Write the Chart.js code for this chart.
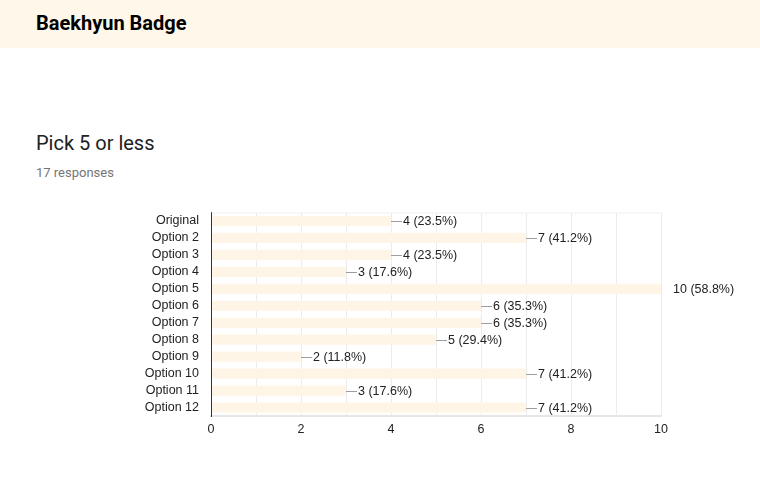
<!DOCTYPE html>
<html>
<head>
<meta charset="utf-8">
<script src="https://cdn.jsdelivr.net/npm/chart.js@4"></script>
<style>
    body { margin: 0; width: 760px; height: 483px; background: #fff; position: relative; overflow: hidden; font-family: Roboto, "Liberation Sans", sans-serif; }
    .cabecera { position: absolute; left: 0; top: 0; width: 760px; height: 48px; background: #fff7e9; }
    .cabecera h1 { position: absolute; left: 36px; top: 11px; margin: 0; font-size: 20px; font-weight: 700; color: #000; }
    .pregunta { position: absolute; left: 36px; top: 131px; margin: 0; font-size: 20px; font-weight: 400; color: #212121; }
    .respuestas { position: absolute; left: 36px; top: 165px; font-size: 13px; color: #757575; }
    .lienzo { position: absolute; left: 0; top: 193px; width: 760px; height: 249px; }
</style>
</head>
<body>
<div class="cabecera"><h1>Baekhyun Badge</h1></div>
<h2 class="pregunta">Pick 5 or less</h2>
<div class="respuestas">17 responses</div>
<div class="lienzo"><canvas id="chart-opciones"></canvas></div>

<script>
// Datos del gráfico
const categorias = ['Original', 'Option 2', 'Option 3', 'Option 4', 'Option 5', 'Option 6',
    'Option 7', 'Option 8', 'Option 9', 'Option 10', 'Option 11', 'Option 12'];
const votos = [4, 7, 4, 3, 10, 6, 6, 5, 2, 7, 3, 7];
const totalRespuestas = 17;
const ticksX = [0, 2, 4, 6, 8, 10];

const fuente = '"Liberation Sans", Arial, sans-serif';

/**
 * Etiquetas al final de cada barra: "—4 (23.5%)"
 */
const etiquetasBarras = {
    id: 'etiquetasBarras',
    beforeDatasetsDraw(chart) {
        // Línea superior tenue del área del gráfico
        const area = chart.chartArea;
        const ctx = chart.ctx;
        ctx.save();
        ctx.strokeStyle = '#f0f0f0';
        ctx.lineWidth = 1;
        ctx.beginPath();
        ctx.moveTo(area.left, area.top + 0.5);
        ctx.lineTo(area.right, area.top + 0.5);
        ctx.stroke();
        ctx.restore();
    },
    afterDatasetsDraw(chart) {
        const ctx = chart.ctx;
        const area = chart.chartArea;
        const meta = chart.getDatasetMeta(0);
        const maximo = Math.max(...votos);
        ctx.save();

        // Eje vertical oscuro por encima de las barras
        ctx.strokeStyle = '#333';
        ctx.lineWidth = 1;
        ctx.beginPath();
        ctx.moveTo(Math.round(area.left) + 0.5, area.top);
        ctx.lineTo(Math.round(area.left) + 0.5, area.bottom);
        ctx.stroke();

        ctx.font = '12.5px ' + fuente;
        ctx.textBaseline = 'middle';
        meta.data.forEach((barra, i) => {
            const valor = votos[i];
            const pct = (valor / totalRespuestas * 100).toFixed(1);
            const x = barra.x;
            const y = barra.y;
            if (valor !== maximo) {
                ctx.strokeStyle = '#9e9e9e';
                ctx.lineWidth = 1;
                ctx.beginPath();
                ctx.moveTo(x, Math.round(y) + 0.5);
                ctx.lineTo(x + 11, Math.round(y) + 0.5);
                ctx.stroke();
            }
            ctx.fillStyle = '#222';
            ctx.fillText(valor + ' (' + pct + '%)', x + 12, y + 1);
        });
        ctx.restore();
    }
};

new Chart(document.getElementById('chart-opciones').getContext('2d'), {
    type: 'bar',
    data: {
        labels: categorias,
        datasets: [{
            data: votos,
            backgroundColor: '#fff5e6',
            borderWidth: 0,
            categoryPercentage: 1,
            barPercentage: 0.6
        }]
    },
    options: {
        indexAxis: 'y',
        responsive: true,
        maintainAspectRatio: false,
        animation: false,
        layout: { padding: { top: 4, right: 99, left: 0, bottom: 0 } },
        plugins: {
            legend: { display: false },
            tooltip: { enabled: false }
        },
        scales: {
            x: {
                min: 0,
                max: 10,
                afterFit: (scale) => { scale.height = 26; },
                ticks: {
                    stepSize: 1,
                    autoSkip: false,
                    padding: 6,
                    color: '#222',
                    font: { family: fuente, size: 12.5 },
                    callback: (v) => ticksX.includes(v) ? String(v) : ''
                },
                grid: {
                    color: '#ececec',
                    drawTicks: false
                },
                border: { color: '#e6e6e6', width: 2 }
            },
            y: {
                afterFit: (scale) => { scale.width = 211; },
                ticks: {
                    autoSkip: false,
                    padding: 12,
                    color: '#222',
                    font: { family: fuente, size: 12.5 }
                },
                grid: { display: false, drawTicks: false },
                border: { color: '#333', width: 1 }
            }
        }
    },
    plugins: [etiquetasBarras]
});
</script>
</body>
</html>
